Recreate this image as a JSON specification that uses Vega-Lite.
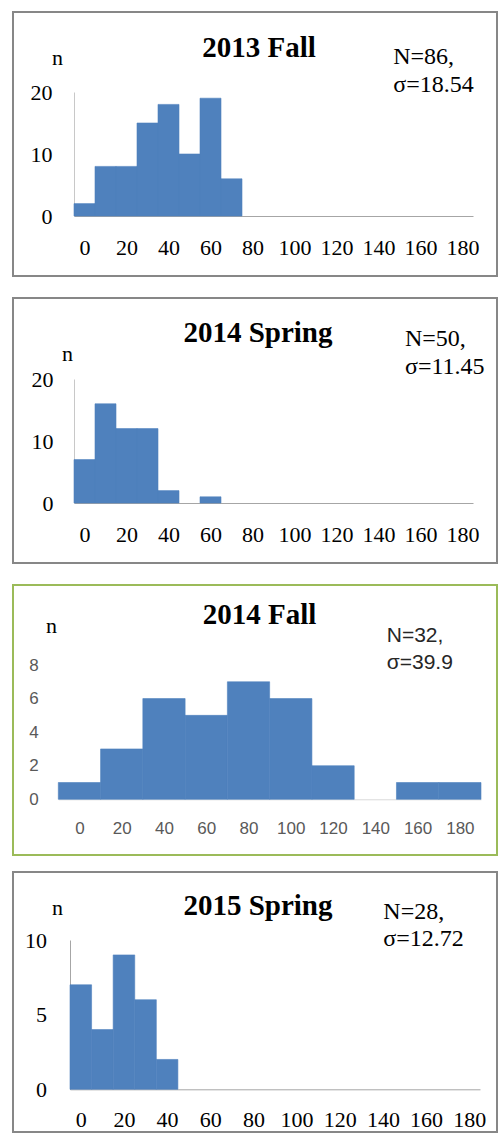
{
  "$schema": "https://vega.github.io/schema/vega-lite/v6.json",
  "padding": {"left": 12, "top": 11, "right": 0, "bottom": 0},
  "background": "white",
  "datasets": {
    "fall2013": [
      {"bin": 0, "lo": -5, "hi": 5, "n": 2},
      {"bin": 10, "lo": 5, "hi": 15, "n": 8},
      {"bin": 20, "lo": 15, "hi": 25, "n": 8},
      {"bin": 30, "lo": 25, "hi": 35, "n": 15},
      {"bin": 40, "lo": 35, "hi": 45, "n": 18},
      {"bin": 50, "lo": 45, "hi": 55, "n": 10},
      {"bin": 60, "lo": 55, "hi": 65, "n": 19},
      {"bin": 70, "lo": 65, "hi": 75, "n": 6}
    ],
    "spring2014": [
      {"bin": 0, "lo": -5, "hi": 5, "n": 7},
      {"bin": 10, "lo": 5, "hi": 15, "n": 16},
      {"bin": 20, "lo": 15, "hi": 25, "n": 12},
      {"bin": 30, "lo": 25, "hi": 35, "n": 12},
      {"bin": 40, "lo": 35, "hi": 45, "n": 2},
      {"bin": 50, "lo": 45, "hi": 55, "n": 0},
      {"bin": 60, "lo": 55, "hi": 65, "n": 1}
    ],
    "fall2014": [
      {"bin": 0, "lo": -10, "hi": 10, "n": 1},
      {"bin": 20, "lo": 10, "hi": 30, "n": 3},
      {"bin": 40, "lo": 30, "hi": 50, "n": 6},
      {"bin": 60, "lo": 50, "hi": 70, "n": 5},
      {"bin": 80, "lo": 70, "hi": 90, "n": 7},
      {"bin": 100, "lo": 90, "hi": 110, "n": 6},
      {"bin": 120, "lo": 110, "hi": 130, "n": 2},
      {"bin": 140, "lo": 130, "hi": 150, "n": 0},
      {"bin": 160, "lo": 150, "hi": 170, "n": 1},
      {"bin": 180, "lo": 170, "hi": 190, "n": 1}
    ],
    "spring2015": [
      {"bin": 0, "lo": -5, "hi": 5, "n": 7},
      {"bin": 10, "lo": 5, "hi": 15, "n": 4},
      {"bin": 20, "lo": 15, "hi": 25, "n": 9},
      {"bin": 30, "lo": 25, "hi": 35, "n": 6},
      {"bin": 40, "lo": 35, "hi": 45, "n": 2}
    ],
    "title1": [{"label": "2013 Fall"}],
    "title2": [{"label": "2014 Spring"}],
    "title3": [{"label": "2014 Fall"}],
    "title4": [{"label": "2015 Spring"}],
    "stat1": [{"label": "N=86,\nσ=18.54"}],
    "stat2": [{"label": "N=50,\nσ=11.45"}],
    "stat3": [{"label": "N=32,\nσ=39.9"}],
    "stat4": [{"label": "N=28,\nσ=12.72"}]
  },
  "config": {
    "view": {"stroke": null},
    "rect": {"color": "#4F81BD", "stroke": "#4F81BD", "strokeWidth": 0.6},
    "axis": {"grid": false, "ticks": false, "tickSize": 0, "labelFont": "Liberation Serif", "labelFontSize": 22, "labelColor": "#000000", "titleFont": "Liberation Serif", "titleFontSize": 22, "titleFontWeight": "normal", "titleColor": "#000000", "labelFlush": false, "labelOverlap": false, "labelBound": false}
  },
  "vconcat": [
    {
      "spacing": 20,
      "vconcat": [
        {
          "width": 484, "height": 264,
          "view": {"stroke": "#878787", "strokeWidth": 2},
          "layer": [
            {
              "data": {"name": "fall2013"},
              "mark": {"type": "rect"},
              "encoding": {
                "x": {"field": "lo", "type": "quantitative", "scale": {"domain": [-5, 185], "range": [61, 460], "nice": false, "zero": false},
                  "axis": {"title": null, "values": [0, 20, 40, 60, 80, 100, 120, 140, 160, 180], "offset": -60, "domainColor": "#a6a6a6", "domainWidth": 1, "labelPadding": 21}},
                "x2": {"field": "hi"},
                "y": {"field": "n", "type": "quantitative", "scale": {"domain": [0, 20], "range": [204, 80], "nice": false},
                  "axis": {"title": "n", "titleAngle": 0, "titleX": -17, "titleY": 45, "titleAlign": "center", "titleBaseline": "middle", "values": [0, 10, 20], "offset": -61, "domainColor": "#c8c8c8", "labelPadding": 22}},
                "y2": {"datum": 0},
                "strokeOpacity": {"condition": {"test": "datum.n == 0", "value": 0}, "value": 1}
              }
            },
            {
              "data": {"name": "title1"},
              "mark": {"type": "text", "align": "center", "baseline": "alphabetic", "font": "Liberation Serif", "fontSize": 29, "fontWeight": "bold", "color": "#000000"},
              "encoding": {"x": {"datum": 83.1, "type": "quantitative"}, "y": {"datum": 25.7, "type": "quantitative"}, "text": {"field": "label"}}
            },
            {
              "data": {"name": "stat1"},
              "mark": {"type": "text", "align": "left", "baseline": "alphabetic", "lineBreak": "\n", "lineHeight": 28, "font": "Liberation Serif", "fontSize": 24, "color": "#000000"},
              "encoding": {"x": {"datum": 147, "type": "quantitative"}, "y": {"datum": 24.5, "type": "quantitative"}, "text": {"field": "label"}}
            }
          ]
        },
        {
          "width": 484, "height": 265,
          "view": {"stroke": "#878787", "strokeWidth": 2},
          "layer": [
            {
              "data": {"name": "spring2014"},
              "mark": {"type": "rect"},
              "encoding": {
                "x": {"field": "lo", "type": "quantitative", "scale": {"domain": [-5, 185], "range": [61, 460], "nice": false, "zero": false},
                  "axis": {"title": null, "values": [0, 20, 40, 60, 80, 100, 120, 140, 160, 180], "offset": -60, "domainColor": "#a6a6a6", "labelPadding": 21}},
                "x2": {"field": "hi"},
                "y": {"field": "n", "type": "quantitative", "scale": {"domain": [0, 20], "range": [205, 81], "nice": false},
                  "axis": {"title": "n", "titleAngle": 0, "titleX": -7, "titleY": 55, "titleAlign": "center", "titleBaseline": "middle", "values": [0, 10, 20], "offset": -61, "domainColor": "#c8c8c8", "labelPadding": 21}},
                "y2": {"datum": 0},
                "strokeOpacity": {"condition": {"test": "datum.n == 0", "value": 0}, "value": 1}
              }
            },
            {
              "data": {"name": "title2"},
              "mark": {"type": "text", "align": "center", "baseline": "alphabetic", "font": "Liberation Serif", "fontSize": 29, "fontWeight": "bold", "color": "#000000"},
              "encoding": {"x": {"datum": 82.6, "type": "quantitative"}, "y": {"datum": 26.0, "type": "quantitative"}, "text": {"field": "label"}}
            },
            {
              "data": {"name": "stat2"},
              "mark": {"type": "text", "align": "left", "baseline": "alphabetic", "lineBreak": "\n", "lineHeight": 28, "font": "Liberation Serif", "fontSize": 24, "color": "#000000"},
              "encoding": {"x": {"datum": 152.6, "type": "quantitative"}, "y": {"datum": 25.4, "type": "quantitative"}, "text": {"field": "label"}}
            }
          ]
        },
        {
          "width": 484, "height": 270,
          "view": {"stroke": "#9BBB59", "strokeWidth": 2},
          "layer": [
            {
              "data": {"name": "fall2014"},
              "mark": {"type": "rect"},
              "encoding": {
                "x": {"field": "lo", "type": "quantitative", "scale": {"domain": [-10, 190], "range": [45.3, 468], "nice": false, "zero": false},
                  "axis": {"title": null, "values": [0, 20, 40, 60, 80, 100, 120, 140, 160, 180], "offset": -55.7, "domainColor": "#d9d9d9", "labelPadding": 21, "labelFont": "Liberation Sans", "labelFontSize": 17, "labelColor": "#595959"}},
                "x2": {"field": "hi"},
                "y": {"field": "n", "type": "quantitative", "scale": {"domain": [0, 8], "range": [214.3, 80], "nice": false},
                  "axis": {"title": "n", "titleAngle": 0, "titleX": -7.3, "titleY": 40.5, "titleAlign": "center", "titleBaseline": "middle", "values": [0, 2, 4, 6, 8], "offset": -45.3, "domain": false, "labelPadding": 20, "labelFont": "Liberation Sans", "labelFontSize": 17, "labelColor": "#595959"}},
                "y2": {"datum": 0},
                "strokeOpacity": {"condition": {"test": "datum.n == 0", "value": 0}, "value": 1}
              }
            },
            {
              "data": {"name": "title3"},
              "mark": {"type": "text", "align": "center", "baseline": "alphabetic", "font": "Liberation Serif", "fontSize": 29, "fontWeight": "bold", "color": "#000000"},
              "encoding": {"x": {"datum": 85.2, "type": "quantitative"}, "y": {"datum": 10.44, "type": "quantitative"}, "text": {"field": "label"}}
            },
            {
              "data": {"name": "stat3"},
              "mark": {"type": "text", "align": "left", "baseline": "alphabetic", "lineBreak": "\n", "lineHeight": 27, "font": "Liberation Sans", "fontSize": 21, "color": "#262626"},
              "encoding": {"x": {"datum": 145.4, "type": "quantitative"}, "y": {"datum": 9.39, "type": "quantitative"}, "text": {"field": "label"}}
            }
          ]
        }
      ]
    },
    {
      "width": 484, "height": 260,
      "view": {"stroke": "#878787", "strokeWidth": 2},
      "layer": [
        {
          "data": {"name": "spring2015"},
          "mark": {"type": "rect"},
          "encoding": {
            "x": {"field": "lo", "type": "quantitative", "scale": {"domain": [-5, 185], "range": [57, 467], "nice": false, "zero": false},
              "axis": {"title": null, "values": [0, 20, 40, 60, 80, 100, 120, 140, 160, 180], "offset": -42.7, "domainColor": "#a6a6a6", "labelPadding": 20}},
            "x2": {"field": "hi"},
            "y": {"field": "n", "type": "quantitative", "scale": {"domain": [0, 10], "range": [217.3, 68], "nice": false},
              "axis": {"title": "n", "titleAngle": 0, "titleX": -13, "titleY": 35.5, "titleAlign": "center", "titleBaseline": "middle", "values": [0, 5, 10], "offset": -57, "domainColor": "#a6a6a6", "labelPadding": 23.5}},
            "y2": {"datum": 0},
            "strokeOpacity": {"condition": {"test": "datum.n == 0", "value": 0}, "value": 1}
          }
        },
        {
          "data": {"name": "title4"},
          "mark": {"type": "text", "align": "center", "baseline": "alphabetic", "font": "Liberation Serif", "fontSize": 29, "fontWeight": "bold", "color": "#000000"},
          "encoding": {"x": {"datum": 82.1, "type": "quantitative"}, "y": {"datum": 11.67, "type": "quantitative"}, "text": {"field": "label"}}
        },
        {
          "data": {"name": "stat4"},
          "mark": {"type": "text", "align": "left", "baseline": "alphabetic", "lineBreak": "\n", "lineHeight": 27, "font": "Liberation Serif", "fontSize": 24, "color": "#000000"},
          "encoding": {"x": {"datum": 140.2, "type": "quantitative"}, "y": {"datum": 11.39, "type": "quantitative"}, "text": {"field": "label"}}
        }
      ]
    }
  ],
  "spacing": 15
}
